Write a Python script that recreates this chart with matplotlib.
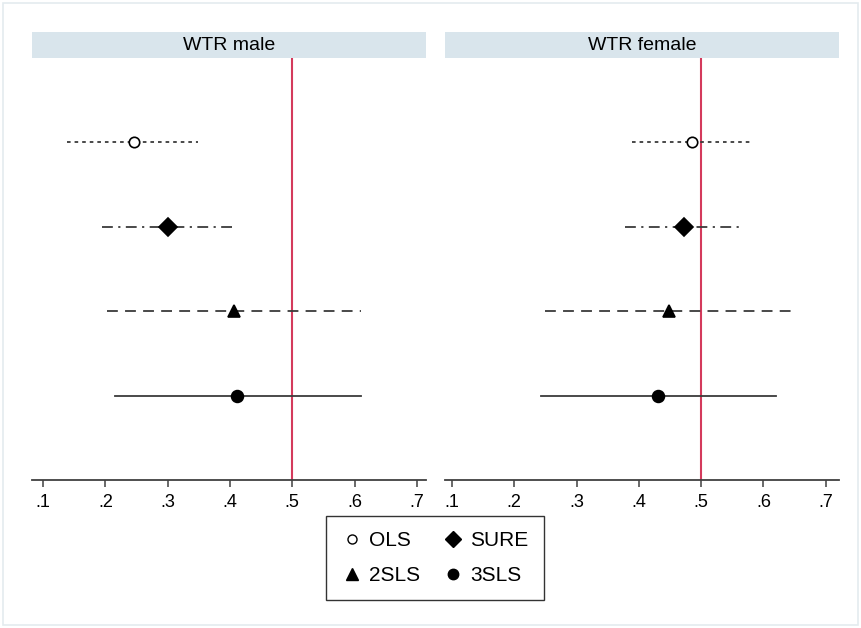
import matplotlib.pyplot as plt
from matplotlib.lines import Line2D
from matplotlib.patches import Rectangle

plt.rcParams.update({
    "font.family": ["Liberation Sans", "DejaVu Sans"],
    "font.size": 14,
})

# estimates and confidence intervals
methods = ["OLS", "SURE", "2SLS", "3SLS"]
male_est = [0.246, 0.300, 0.407, 0.412]
male_lo = [0.138, 0.195, 0.203, 0.216]
male_hi = [0.349, 0.405, 0.610, 0.610]
female_est = [0.486, 0.472, 0.449, 0.431]
female_lo = [0.389, 0.378, 0.249, 0.243]
female_hi = [0.583, 0.565, 0.650, 0.620]
panels = ["WTR male", "WTR female"]
xticks = [0.1, 0.2, 0.3, 0.4, 0.5, 0.6, 0.7]
xticklabels = [".1", ".2", ".3", ".4", ".5", ".6", ".7"]
ref_line = 0.5

# styles per method
markers = ["o", "D", "^", "o"]
msizes = [7.5, 9, 9, 8.5]
mfaces = ["white", "black", "black", "black"]
lstyles = [(0, (2, 2.2)), (0, (6, 3, 1.2, 3)), (0, (6, 4)), "-"]
line_col = "#3a3a3a"
red = "#d43a5c"
strip = "#d9e5ec"

W, H = 861, 628
fig = plt.figure(figsize=(W / 100, H / 100), dpi=100)
fig.patches.append(Rectangle((3 / W, 3 / H), 1 - 6 / W, 1 - 6 / H, transform=fig.transFigure,
                             fill=False, edgecolor="#e4ebef", lw=1.2))

axes_px = [(32, 426), (445, 839)]
xlims = [(0.0823, 0.7147), (0.0888, 0.7212)]
data = [(male_est, male_lo, male_hi), (female_est, female_lo, female_hi)]

for (x0, x1), xl, title, (est, lo, hi) in zip(axes_px, xlims, panels, data):
    ax = fig.add_axes([x0 / W, 1 - 480 / H, (x1 - x0) / W, (480 - 58) / H])
    ax.set_xlim(*xl)
    ax.set_ylim(5, 0)
    ax.axvline(ref_line, color=red, lw=1.5, zorder=1)
    for i, m in enumerate(methods):
        y = i + 1
        ax.plot([lo[i], hi[i]], [y, y], color=line_col, lw=1.3, linestyle=lstyles[i], zorder=2)
        ax.plot(est[i], y, marker=markers[i], ms=msizes[i], mfc=mfaces[i], mec="black",
                mew=1.2, linestyle="none", zorder=3)
    for s in ["top", "left", "right"]:
        ax.spines[s].set_visible(False)
    ax.spines["bottom"].set_color("#404040")
    ax.spines["bottom"].set_linewidth(1.3)
    ax.set_yticks([])
    ax.set_xticks(xticks)
    ax.set_xticklabels(xticklabels, fontsize=13)
    ax.tick_params(axis="x", length=5, width=1.1, color="#404040", pad=5)
    # header strip
    hx = fig.add_axes([x0 / W, 1 - 58 / H, (x1 - x0) / W, 26 / H])
    hx.set_facecolor(strip)
    hx.set_xticks([])
    hx.set_yticks([])
    for s in hx.spines.values():
        s.set_visible(False)
    hx.text(0.5, 0.48, title, ha="center", va="center", fontsize=14, transform=hx.transAxes)

# legend, filled row by row
handles = [Line2D([], [], marker=markers[i], ms=msizes[i] - 1, mfc=mfaces[i], mec="black",
                  linestyle="none") for i in range(4)]
order = [0, 2, 1, 3]
leg = fig.legend([handles[i] for i in order], [methods[i] for i in order], ncol=2,
                 loc="center", bbox_to_anchor=(435 / W, 1 - 558 / H), fontsize=15,
                 frameon=True, fancybox=False, edgecolor="black", handletextpad=0.3,
                 columnspacing=1.1, handlelength=1.0, borderpad=0.75, labelspacing=0.75)
leg.get_frame().set_linewidth(1.0)

fig.savefig("out.png", dpi=100)
